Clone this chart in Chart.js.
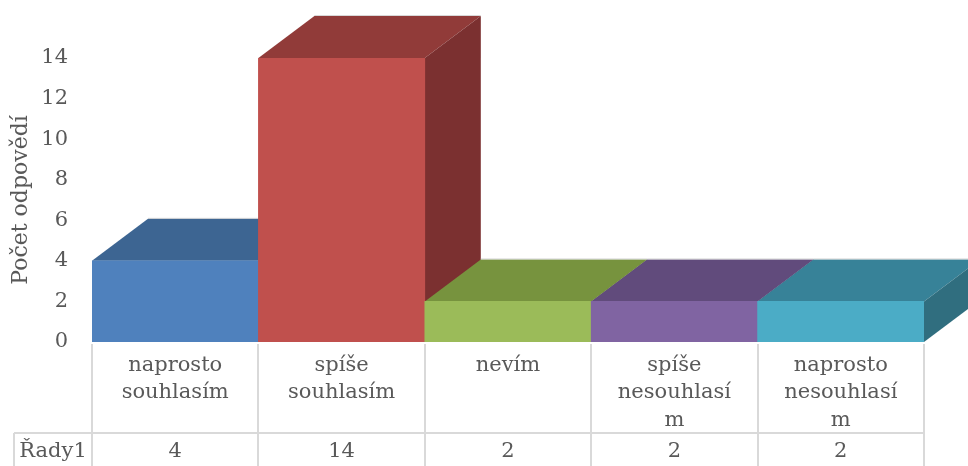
<!DOCTYPE html>
<html lang="cs">
<head>
<meta charset="utf-8">
<title>Počet odpovědí</title>
<script src="https://cdn.jsdelivr.net/npm/chart.js@4/dist/chart.umd.min.js"></script>
<style>
  html, body { margin: 0; padding: 0; background: #ffffff; }
  #wrap { width: 968px; height: 466px; }
</style>
</head>
<body>
<div id="wrap"><canvas id="chart" width="968" height="466"></canvas></div>
<script>
// Answer categories (wrapped exactly as printed under the bars)
const categories = [
  ['naprosto', 'souhlasím'],
  ['spíše', 'souhlasím'],
  ['nevím'],
  ['spíše', 'nesouhlasí', 'm'],
  ['naprosto', 'nesouhlasí', 'm']
];
// Number of answers per category
const seriesName = 'Řady1';
const values = [4, 14, 2, 2, 2];
// Value axis ticks
const yTicks = [0, 2, 4, 6, 8, 10, 12, 14];

// Face colours per bar: front, top, right side
const frontColors = ['#4f81bd', '#c0504d', '#9bbb59', '#8064a2', '#4bacc6'];
const topColors   = ['#3d6592', '#913b39', '#77933e', '#614b7c', '#378298'];
const sideColors  = ['#345677', '#7b3030', '#637b33', '#513f67', '#306e7f'];

const TEXT = '#595959';
const LINE = '#d9d9d9';
const FONT = "'DejaVu Serif', 'Liberation Serif', serif";
const FONT_SIZE = 21;
const DEPTH_X = 56;   // oblique depth of the boxes
const DEPTH_Y = 42;

// Tops and right sides of the boxes, painted before the front faces
const boxFaces = {
  id: 'boxFaces',
  beforeDatasetsDraw(chart) {
    const ctx = chart.ctx;
    const meta = chart.getDatasetMeta(0);
    ctx.save();
    meta.data.forEach((bar, i) => {
      const p = bar.getProps(['x', 'y', 'base', 'width'], true);
      const l = p.x - p.width / 2, r = p.x + p.width / 2;
      const t = p.y, b = p.base;
      // top
      ctx.beginPath();
      ctx.moveTo(l, t);
      ctx.lineTo(l + DEPTH_X, t - DEPTH_Y);
      ctx.lineTo(r + DEPTH_X, t - DEPTH_Y);
      ctx.lineTo(r, t);
      ctx.closePath();
      ctx.fillStyle = topColors[i];
      ctx.fill();
      // right side
      ctx.beginPath();
      ctx.moveTo(r, t);
      ctx.lineTo(r + DEPTH_X, t - DEPTH_Y);
      ctx.lineTo(r + DEPTH_X, b - DEPTH_Y);
      ctx.lineTo(r, b);
      ctx.closePath();
      ctx.fillStyle = sideColors[i];
      ctx.fill();
      // faint back edge of the top
      ctx.beginPath();
      ctx.moveTo(l + DEPTH_X, t - DEPTH_Y - 0.5);
      ctx.lineTo(r + DEPTH_X, t - DEPTH_Y - 0.5);
      ctx.strokeStyle = 'rgba(200,200,200,0.7)';
      ctx.lineWidth = 1;
      ctx.stroke();
    });
    ctx.restore();
  }
};

// Data table under the category labels
const dataTable = {
  id: 'dataTable',
  afterDraw(chart) {
    const ctx = chart.ctx;
    const x = chart.scales.x;
    const area = chart.chartArea;
    const n = categories.length;
    const rowTop = 433;
    const bottom = chart.height;
    const tableLeft = 14;
    ctx.save();
    ctx.strokeStyle = LINE;
    ctx.lineWidth = 2;
    // vertical cell borders on category boundaries
    for (let i = 0; i <= n; i++) {
      const px = Math.round(x.getPixelForValue(i - 0.5));
      ctx.beginPath();
      ctx.moveTo(px, area.bottom + 2);
      ctx.lineTo(px, bottom);
      ctx.stroke();
    }
    // row separator and left edge of the series cell
    ctx.beginPath();
    ctx.moveTo(tableLeft, rowTop);
    ctx.lineTo(Math.round(x.getPixelForValue(n - 0.5)), rowTop);
    ctx.moveTo(tableLeft, rowTop);
    ctx.lineTo(tableLeft, bottom);
    ctx.stroke();

    ctx.fillStyle = TEXT;
    ctx.font = FONT_SIZE + "px " + FONT;
    ctx.textBaseline = 'middle';
    ctx.textAlign = 'center';
    const rowMid = 452;
    ctx.fillText(seriesName, (tableLeft + area.left) / 2, rowMid);
    values.forEach((v, i) => {
      ctx.fillText(String(v), x.getPixelForValue(i), rowMid);
    });
    ctx.restore();
  }
};

new Chart(document.getElementById('chart'), {
  type: 'bar',
  data: {
    labels: categories,
    datasets: [{
      label: seriesName,
      data: values,
      backgroundColor: frontColors,
      borderWidth: 0,
      barPercentage: 1,
      categoryPercentage: 1
    }]
  },
  options: {
    responsive: false,
    animation: false,
    events: [],
    layout: { padding: { top: 58, right: 44, left: 0, bottom: 0 } },
    plugins: {
      legend: { display: false },
      tooltip: { enabled: false }
    },
    scales: {
      x: {
        grid: { display: false },
        border: { display: false },
        ticks: {
          color: TEXT,
          font: { family: FONT, size: FONT_SIZE, lineHeight: 1.3 },
          padding: 2,
          maxRotation: 0,
          autoSkip: false
        },
        afterFit(scale) { scale.height = 124; }
      },
      y: {
        min: 0,
        max: 14,
        afterBuildTicks(scale) { scale.ticks = yTicks.map(v => ({ value: v })); },
        grid: { display: false },
        border: { display: false },
        ticks: {
          color: TEXT,
          font: { family: FONT, size: FONT_SIZE },
          padding: 16
        },
        title: {
          display: true,
          text: 'Počet odpovědí',
          color: TEXT,
          font: { family: FONT, size: 22 },
          padding: { top: 8, bottom: 4 }
        },
        afterFit(scale) { scale.width = 92; }
      }
    }
  },
  plugins: [boxFaces, dataTable]
});
</script>
</body>
</html>
